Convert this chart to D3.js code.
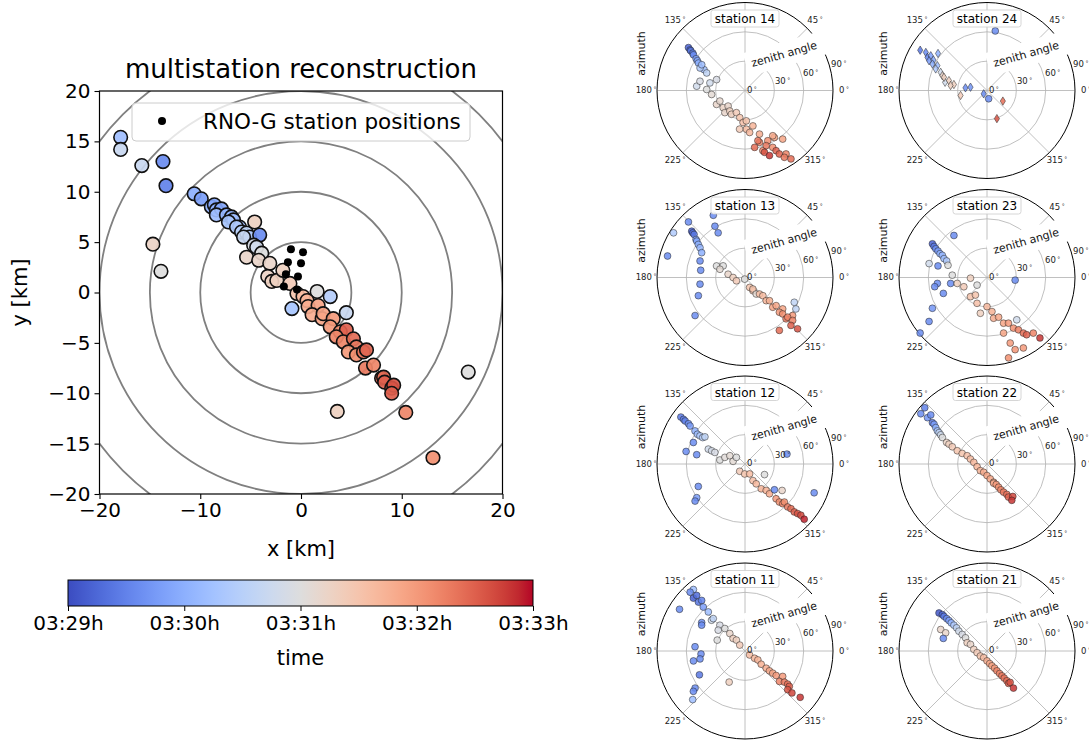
<!DOCTYPE html>
<html><head><meta charset="utf-8">
<script src="https://cdn.jsdelivr.net/npm/d3@7"></script>
<style>body{margin:0;background:#fff;} svg{font-family:"DejaVu Sans",sans-serif;}</style>
</head><body><svg id="c" width="1089" height="742"></svg>
<script>
// ---------- data ----------
const xTicks = [-20,-10,0,10,20];
const yTicks = [-20,-15,-10,-5,0,5,10,15,20];
const ringRadii = [5,10,15,20,25];
const timeTickValues = [0,1,2,3,4];
const timeTickLabels = ["03:29h","03:30h","03:31h","03:32h","03:33h"];
// main reconstruction: [x km, y km, minutes after 03:29]
const recoPoints = [
[-17.9,15.4,1.2],[-17.9,14.2,1.7],[-15.8,12.6,1.7],[-13.7,13.0,0.6],[-13.4,10.6,0.5],
[-14.7,4.8,2.25],[-13.9,2.1,2.0],[-10.6,9.8,1.0],[-9.9,9.3,0.8],[-8.9,8.5,1.0],[-8.6,8.7,0.9],
[-8.4,8.2,1.0],[-7.9,8.3,0.9],[-8.4,7.7,1.2],[-7.4,7.7,1.1],[-6.9,7.5,1.1],[-6.7,7.2,1.2],[-7.2,7.0,1.3],
[-6.1,6.5,1.2],[-6.4,6.5,1.4],[-5.9,6.0,1.5],[-5.4,5.9,1.6],[-5.1,5.5,1.4],[-4.6,7.0,2.3],[-4.1,5.7,0.6],
[-5.7,5.5,1.7],[-4.7,4.7,1.9],[-4.4,4.5,1.8],[-3.9,3.9,2.0],[-5.4,3.5,2.2],[-4.2,3.2,2.2],[-3.1,2.9,2.2],
[-3.3,1.6,2.25],[-2.9,1.1,2.3],[-2.4,1.2,2.3],[-1.8,2.2,2.3],[-1.1,0.9,2.4],[-0.4,-0.1,2.5],[0.2,-0.4,2.6],
[1.6,0.1,2.0],[2.9,-0.4,1.45],[-0.9,-1.6,1.3],[0.6,-0.8,2.7],[0.7,-1.4,2.8],[1.7,-1.3,2.9],[1.1,-2.2,2.8],
[2.1,-2.6,2.9],[2.2,-2.1,2.9],[3.2,-2.6,3.0],[4.5,-2.0,1.7],[2.9,-3.4,3.0],[3.9,-3.9,3.1],[4.5,-3.7,3.5],
[3.5,-4.4,3.2],[4.2,-4.9,3.2],[5.2,-4.6,3.4],[5.5,-5.4,3.3],[4.7,-5.9,3.0],[5.5,-6.2,3.1],[6.2,-5.9,3.35],
[6.5,-5.7,3.45],[6.4,-7.5,3.3],[7.2,-7.2,3.2],[8.0,-8.5,3.5],[8.2,-8.4,3.4],[8.3,-8.9,3.5],[9.0,-9.5,3.5],
[9.2,-9.2,3.6],[9.0,-10.0,3.5],[16.6,-7.9,2.0],[3.6,-11.8,2.3],[10.4,-11.9,3.2],[13.1,-16.4,3.1]
];
const stationPositions = [[-1.0,4.3],[0.2,4.0],[-1.3,3.0],[0.0,2.9],[-1.5,1.8],[-0.3,1.6],[-1.7,0.6],[-0.4,0.3]];

// polar panels: [azimuth deg, zenith deg, minutes after 03:29]
const station14 = [[142.8,72.6,0.2],[143.5,69.8,0.3],[143.8,68.7,0.4],[144.4,65.6,0.5],[145.3,64.1,0.6],[147,59.6,0.8],[148,57.4,0.9],[149.5,55.3,1.0],[153,47,1.2],[153.4,51.4,1.4],[155.4,43.1,1.6],[149.2,51.5,1.2],[174.9,49.6,1.8],[168.4,47,1.9],[167.8,36.7,1.8],[159,31.1,1.9],[178.5,39.2,2.0],[186.8,34.4,2.1],[206,32.4,2.2],[202.8,27.9,2.15],[218.2,28.4,2.25],[222.7,23.5,2.2],[227.7,30.6,2.2],[233.4,26.1,2.3],[240.3,28,2.3],[248.8,24.3,2.4],[259,28.2,2.5],[266.5,32.8,2.55],[272.5,31.1,2.5],[272,39.6,2.6],[262,39.9,2.4],[282.6,37.1,2.7],[276.3,43.2,2.65],[288.4,47,2.8],[302,56.7,2.9],[301.5,54.3,2.8],[307.8,62.9,2.9],[294.4,56.4,3.1],[296,64.7,3.1],[285.7,55.1,3.2],[284.4,53,3.3],[286.5,64.2,3.2],[279.6,59,3.4],[291,60.4,3.3],[297.3,69.3,3.5],[298.4,73.8,3.5],[287.5,66.3,3.6],[302.9,77.3,3.2],[300.5,79.3,3.3],[303.9,84.3,3.4],[290.6,71.1,3.8]];
const station24 = [[148.9,79.8,0.4],[148.1,73.7,0.6],[150.9,69.7,0.5],[148.3,67.6,0.8],[142.9,62.8,1.0],[152.8,66.6,0.8],[150.4,63,0.9],[154.1,62,1.0],[153.4,56.7,1.2],[157.2,56.9,1.4],[158.6,50.9,1.8],[168.9,43.7,1.8],[161.6,48.1,2.2],[162.9,46,2.3],[165.4,40.2,2.3],[169.8,34.4,2.3],[172.2,37.6,2.3],[190.6,27.5,2.4],[173,22.2,0.6],[168.7,17.2,0.7],[225,4.8,0.6],[326.3,19.5,3.4],[289.4,30.5,3.6]];
const station24Circles = [[82.1,61.5,0.6],[281.3,8.6,0.6]];
const station13 = [[148,86.2,1.4],[164.5,82.2,0.6],[135.5,81.1,0.6],[117,71.4,0.6],[120.4,60.8,0.6],[121,53.3,0.6],[139,72.2,0.2],[139.5,70.3,0.3],[139.8,68.2,0.4],[142.2,63.4,0.8],[143,61.8,0.9],[144.7,58.5,1.0],[146.5,55.2,1.1],[150.2,51.1,1.0],[159.8,49,0.6],[170.7,45.9,0.6],[188.4,46.5,0.6],[201.3,51.2,0.6],[217.3,64.2,0.6],[157.9,31.4,2.0],[152,25.3,2.0],[161.8,27,2.1],[169,17.6,2.2],[180,12.2,2.3],[201,9.4,2.4],[259,1.7,2.0],[295,11.2,2.5],[301,15.8,2.5],[304.4,14.3,2.5],[304.2,20.4,2.1],[311.3,22.5,2.6],[314.5,26.1,2.6],[312.4,32.1,2.7],[316.6,34.5,2.75],[313,41.6,2.9],[317.9,42.9,2.85],[320.2,50.2,2.9],[314.7,50,3.0],[316,53.6,3.1],[321.4,62.3,3.0],[314.8,59.6,3.3],[317.1,59.6,3.2],[318,65.6,3.2],[313.8,67.9,3.5],[328.3,61.2,1.6],[333.3,56.4,1.6],[303,64.5,3.4],[315.7,75.1,3.6]];
const station23 = [[128.2,54.7,0.6],[148.3,65.6,0.2],[149.6,62.8,0.4],[150.7,60.1,0.6],[151.6,56.9,0.8],[153.1,53.9,1.0],[153.6,51,1.1],[156.3,48,1.2],[157.7,44.6,1.4],[166.5,60.9,1.8],[166.7,51.5,0.6],[162.6,41.8,2.0],[176.2,35.6,2.0],[186.8,51.1,0.6],[200,47.5,0.6],[190,54.3,0.6],[189.3,37.7,0.6],[209.4,64.1,0.7],[217.2,74.4,0.6],[219.7,88.9,0.6],[191.3,31,2.3],[182.3,16.9,2.3],[201.8,25.5,2.4],[217.5,12.8,2.0],[229.2,25.9,2.5],[236.6,21.5,2.5],[248.9,28.3,2.55],[270,29.8,2.65],[259.5,37.2,2.3],[278.3,35.2,2.75],[279.2,42.2,2.8],[286.3,42.3,2.85],[289.9,49.7,2.9],[295.2,51.6,3.0],[286.6,59.3,2.9],[297.6,58.4,3.1],[301,62.4,3.25],[305.1,52.9,1.8],[303.2,67.9,3.4],[304.7,71.2,3.5],[309.8,74,3.2],[289.5,71.1,3.0],[291.3,79.2,3.05],[297.3,81.1,3.0],[285,85.1,3.1],[311.2,82.2,3.8],[354.6,28.9,0.6]];
const station12 = [[143.8,81.3,0.4],[144,77.7,0.45],[144.3,75.4,0.5],[144.5,71,0.6],[145.3,68.3,0.8],[146.5,61.3,1.0],[148,57.4,1.2],[148,54.3,1.4],[148,51,1.5],[145.9,49.5,1.6],[157.4,57.2,0.6],[168,61.6,0.6],[169.1,50.3,0.6],[157.9,40.5,1.8],[158.4,36.7,1.85],[159,33,1.9],[171,26,2.0],[161.8,21.7,2.05],[151.5,17.7,2.1],[167.5,12.5,2.1],[142.4,11.1,2.0],[234,9.2,2.4],[268,10.2,2.5],[295,11.2,2.6],[331.5,22.7,2.0],[295.6,18.8,2.55],[299.5,23.3,2.65],[303.2,30.3,2.7],[308.7,34.6,2.75],[309.4,39.4,2.8],[311.8,47.7,3.0],[312.1,52.4,3.1],[313.5,56,3.2],[316,56,3.1],[314.8,61.9,3.3],[315.8,65.6,3.4],[315.8,70.3,3.5],[316.7,73.9,3.6],[317.5,77.5,3.7],[317,82.8,3.9],[318.8,40,0.6],[324.5,46.6,2.2],[13.3,44.1,0.6],[337.4,76.6,0.6],[205.7,53,0.6],[214.9,60.2,0.8],[216.6,63.6,0.6]];
const station22 = [[142.8,85,0.6],[137.9,85.8,0.5],[142.1,77.1,0.7],[138.9,76.3,0.6],[142.9,70,0.4],[143.1,67.7,0.8],[144.6,64.3,1.0],[146.3,61,1.3],[146.8,58.6,1.6],[147.8,56,1.8],[149.3,53.1,2.0],[151.9,46.8,2.25],[152.4,43.9,2.3],[153.6,39.6,2.4],[156,33.3,2.5],[156.9,27.6,2.5],[157.4,22,2.55],[163.3,17.7,2.6],[172.9,13.6,2.65],[195,10.5,2.7],[225,9.6,2.7],[248.2,9.1,2.8],[270,11.8,2.9],[282.5,15.6,2.85],[290,19.8,2.9],[289,20.8,2.8],[294.3,23,3.0],[296.6,26.5,3.1],[298.3,30,3.2],[300.5,33.4,3.3],[303.1,37.1,3.4],[303,40.3,3.5],[308.5,42.4,3.7],[304.3,45,3.8]];
const station11 = [[130,82.1,1.2],[133,82.3,0.6],[147.5,79.4,0.6],[134.3,75.6,0.2],[131,75.3,0.3],[133.6,69.1,0.4],[130.6,68.1,0.5],[133.5,62,0.8],[133.2,54.8,1.2],[146.7,53,0.6],[149.2,51.6,0.6],[137.4,46.5,1.8],[134.4,46.4,1.6],[134.3,36.8,1.9],[142.1,34.7,1.9],[158.6,30.5,2.0],[131.9,30.9,2.0],[131,23.7,2.2],[133.5,17.7,2.3],[128.2,14.2,2.3],[131.6,8.1,2.4],[319.4,6.2,2.6],[322.8,12.3,2.65],[325.3,16,2.7],[320.8,21.4,2.75],[320.9,27.9,2.8],[320.9,32.2,2.85],[321.4,36.3,2.9],[321.8,40.5,3.0],[326,46.5,3.0],[318.5,47,3.2],[321.7,51.3,3.3],[322.2,55.2,3.4],[321.4,58,3.5],[317.8,58.9,3.6],[318.2,64.4,3.7],[320,73.7,3.8],[175.1,51.3,0.6],[183.9,45.1,0.6],[190,46.7,0.6],[190.9,53.7,0.6],[207.6,52.6,0.4],[216.6,63.6,0.6],[218,67,0.6],[222.9,73,1.2],[243,35.7,2.3]];
const station21 = [[141.6,62.6,0.1],[140.8,58.9,0.25],[141.1,56.5,0.4],[141.2,52.9,0.6],[141.3,49.8,0.8],[141.8,46.5,1.1],[142,42.9,1.4],[142.7,39.1,1.6],[144.8,35.2,1.8],[146.3,30.5,1.9],[155.1,52.2,2.2],[156.3,46.2,2.2],[163.9,46.5,0.6],[148.4,25.8,2.0],[157.4,22,2.3],[158.2,18.2,2.2],[172.9,13.6,2.3],[189.5,10.3,2.4],[216.9,8.5,2.5],[243.4,7.6,2.6],[270,10.1,2.8],[282,13.1,2.85],[288.4,16,2.9],[293.9,19.2,3.0],[296.6,22.7,3.2],[299.2,26.4,3.2],[301,29.6,3.3],[302.4,32.8,3.35],[303.7,36.6,3.4],[303.6,39.8,3.5],[306.4,39.9,3.6],[305.5,46.6,3.8]];
const zenithTicks = [0,30,60,90];
const azimuthLabels = [0,45,135,180,225,315];
const azimuthGrid = [0,45,90,135,180,225,270,315];

// coolwarm colormap stops
const coolwarm = ["#3b4cc0","#445acc","#4d68d7","#5775e1","#6282ea","#6c8ef1","#779af7","#82a5fb","#8db0fe","#98b9ff","#a3c2ff","#aec9fd","#b8d0f9","#c2d5f4","#ccd9ee","#d5dbe6","#dddddd","#e5d8d1","#ecd3c5","#f1ccb9","#f5c4ad","#f7bba0","#f7b194","#f7a687","#f49a7b","#f18d6f","#ec7f63","#e57058","#de604d","#d55042","#cb3e38","#c0282f","#b40426"];
const cmapI = d3.piecewise(d3.interpolateRgb, coolwarm);
const tScale = d3.scaleLinear().domain([0,4]).range([0,1]).clamp(true);
const color = t => cmapI(tScale(t));

const svg = d3.select("#c");
const minus = d => d < 0 ? "\u2212" + Math.abs(d) : String(d);

// ---------- main plot ----------
const X0=99.5, X1=502.5, Y0=91, Y1=494;
const xS = d3.scaleLinear().domain([-20,20]).range([X0,X1]);
const yS = d3.scaleLinear().domain([-20,20]).range([Y1,Y0]);
svg.append("clipPath").attr("id","clipMain").append("rect").attr("x",X0).attr("y",Y0).attr("width",X1-X0).attr("height",Y1-Y0);
const main = svg.append("g").attr("clip-path","url(#clipMain)");
main.selectAll("circle.ring").data(ringRadii).join("circle").attr("class","ring")
  .attr("cx",xS(0)).attr("cy",yS(0)).attr("r",d=>xS(d)-xS(0))
  .attr("fill","none").attr("stroke","#808080").attr("stroke-width",1.8);
main.selectAll("circle.reco").data(recoPoints).join("circle").attr("class","reco")
  .attr("cx",d=>xS(d[0])).attr("cy",d=>yS(d[1])).attr("r",6.8)
  .attr("fill",d=>color(d[2])).attr("fill-opacity",0.92)
  .attr("stroke","#111").attr("stroke-width",1.6);
main.selectAll("circle.st").data(stationPositions).join("circle").attr("class","st")
  .attr("cx",d=>xS(d[0])).attr("cy",d=>yS(d[1])).attr("r",4).attr("fill","#000");
svg.append("rect").attr("x",X0).attr("y",Y0).attr("width",X1-X0).attr("height",Y1-Y0)
  .attr("fill","none").attr("stroke","#000").attr("stroke-width",1.2);
const xAx = svg.append("g").attr("transform",`translate(0,${Y1})`)
  .call(d3.axisBottom(xS).tickValues(xTicks).tickSize(5).tickPadding(4).tickFormat(minus));
const yAx = svg.append("g").attr("transform",`translate(${X0},0)`)
  .call(d3.axisLeft(yS).tickValues(yTicks).tickSize(5).tickPadding(4).tickFormat(minus));
[xAx,yAx].forEach(a=>{a.select(".domain").remove();
  a.selectAll("text").attr("font-size",20).attr("fill","#000").attr("font-family","DejaVu Sans");
  a.selectAll("line").attr("stroke","#000").attr("stroke-width",1.1);});
svg.append("text").attr("x",(X0+X1)/2).attr("y",78).attr("text-anchor","middle").attr("font-size",26).text("multistation reconstruction");
svg.append("text").attr("x",(X0+X1)/2).attr("y",556).attr("text-anchor","middle").attr("font-size",21).text("x [km]");
svg.append("text").attr("transform",`translate(27,${(Y0+Y1)/2}) rotate(-90)`).attr("text-anchor","middle").attr("font-size",21).text("y [km]");
// legend
svg.append("rect").attr("x",132).attr("y",103).attr("width",338).attr("height",38).attr("rx",4)
  .attr("fill","#fff").attr("fill-opacity",0.8).attr("stroke","#cccccc").attr("stroke-width",1);
svg.append("circle").attr("cx",162).attr("cy",121).attr("r",4).attr("fill","#000");
svg.append("text").attr("x",203).attr("y",128.5).attr("font-size",21.5).text("RNO-G station positions");

// ---------- colorbar ----------
const CB0=68, CB1=533, CBy=580, CBh=26;
const grad = svg.append("defs").append("linearGradient").attr("id","cw");
coolwarm.forEach((c,i)=>grad.append("stop").attr("offset",(i/(coolwarm.length-1)*100)+"%").attr("stop-color",c));
svg.append("rect").attr("x",CB0).attr("y",CBy).attr("width",CB1-CB0).attr("height",CBh).attr("fill","url(#cw)").attr("stroke","#000").attr("stroke-width",1);
const cbS = d3.scaleLinear().domain([0,4]).range([CB0,CB1]);
const cbAx = svg.append("g").attr("transform",`translate(0,${CBy+CBh})`)
  .call(d3.axisBottom(cbS).tickValues(timeTickValues).tickSize(5).tickPadding(5).tickFormat((d,i)=>timeTickLabels[i]));
cbAx.select(".domain").remove();
cbAx.selectAll("text").attr("font-size",20).attr("fill","#000").attr("font-family","DejaVu Sans");
cbAx.selectAll("line").attr("stroke","#000");
svg.append("text").attr("x",(CB0+CB1)/2).attr("y",665).attr("text-anchor","middle").attr("font-size",21).text("time");

// ---------- polar panels ----------
const R = 88;
const rS = d3.scaleLinear().domain([0,90]).range([0,R]);
const rad = a => a*Math.PI/180;
const panels = [
 {name:"station 14",data:station14,cx:745,cy:90.5},
 {name:"station 24",data:station24,circ:station24Circles,diamond:true,cx:987,cy:90.5},
 {name:"station 13",data:station13,cx:745,cy:277.5},
 {name:"station 23",data:station23,cx:987,cy:277.5},
 {name:"station 12",data:station12,cx:745,cy:464},
 {name:"station 22",data:station22,cx:987,cy:464},
 {name:"station 11",data:station11,cx:745,cy:651},
 {name:"station 21",data:station21,cx:987,cy:651}
];
const px = (az,zen)=>rS(zen)*Math.cos(rad(az));
const py = (az,zen)=>-rS(zen)*Math.sin(rad(az));
const degLabel = (sel, fmt) => { sel.text(d=>fmt(d)); sel.append("tspan").attr("dx",1.5).attr("dy",-2).attr("font-size",6).text("°"); };
panels.forEach(p=>{
  const g = svg.append("g").attr("transform",`translate(${p.cx},${p.cy})`);
  g.append("circle").attr("r",R).attr("fill","#fff");
  g.selectAll("circle.zg").data(zenithTicks.slice(1,3)).join("circle").attr("class","zg")
    .attr("r",d=>rS(d)).attr("fill","none").attr("stroke","#b0b0b0").attr("stroke-width",0.8);
  g.selectAll("line.ag").data(azimuthGrid).join("line").attr("class","ag")
    .attr("x1",0).attr("y1",0).attr("x2",d=>px(d,90)).attr("y2",d=>py(d,90))
    .attr("stroke","#b0b0b0").attr("stroke-width",0.8);
  g.append("circle").attr("r",R).attr("fill","none").attr("stroke","#000").attr("stroke-width",1);
  if(p.diamond){
    g.selectAll("path.pt").data(p.data).join("path").attr("class","pt")
      .attr("transform",d=>`translate(${px(d[0],d[1])},${py(d[0],d[1])})`)
      .attr("d","M0,-4.2L2.6,0L0,4.2L-2.6,0Z")
      .attr("fill",d=>color(d[2])).attr("fill-opacity",0.85).attr("stroke","#222").attr("stroke-width",0.5);
    g.selectAll("circle.pc").data(p.circ).join("circle").attr("class","pc")
      .attr("cx",d=>px(d[0],d[1])).attr("cy",d=>py(d[0],d[1])).attr("r",3.4)
      .attr("fill",d=>color(d[2])).attr("fill-opacity",0.85).attr("stroke","#222").attr("stroke-width",0.5);
  } else {
    g.selectAll("circle.pt").data(p.data).join("circle").attr("class","pt")
      .attr("cx",d=>px(d[0],d[1])).attr("cy",d=>py(d[0],d[1])).attr("r",3.4)
      .attr("fill",d=>color(d[2])).attr("fill-opacity",0.85).attr("stroke","#222").attr("stroke-width",0.5);
  }
  // zenith angle label with white box
  const zl = g.append("g").attr("transform","translate(40.5,-37) rotate(-16)");
  zl.append("rect").attr("x",-41).attr("y",-12).attr("width",82).attr("height",24).attr("fill","#fff");
  zl.append("text").attr("x",-1.5).attr("y",4).attr("text-anchor","middle").attr("font-size",11).attr("fill","#111").text("zenith angle");
  // radial labels
  g.selectAll("text.rl").data(zenithTicks).join("text").attr("class","rl")
    .attr("x",d=>(rS(d)+2)*Math.cos(rad(17))).attr("y",d=>-(rS(d)+2)*Math.sin(rad(17)))
    .attr("dy","0.35em").attr("font-size",8.5).attr("fill","#222").call(degLabel, d=>String(d));
  // azimuth labels
  g.selectAll("text.al").data(azimuthLabels).join("text").attr("class","al")
    .attr("x",d=>99*Math.cos(rad(d))).attr("y",d=>-99*Math.sin(rad(d)))
    .attr("dy","0.35em").attr("text-anchor","middle").attr("font-size",8.5).attr("fill","#222").call(degLabel, d=>String(d));
  g.append("text").attr("transform","translate(-100,-37) rotate(-90)").attr("text-anchor","middle")
    .attr("font-size",11).attr("fill","#111").text("azimuth");
  // title box
  g.append("rect").attr("x",-34).attr("y",-80.5).attr("width",68).attr("height",17).attr("rx",2.5)
    .attr("fill","#fff").attr("fill-opacity",0.9).attr("stroke","#cccccc").attr("stroke-width",0.8);
  g.append("text").attr("x",0).attr("y",-67.5).attr("text-anchor","middle").attr("font-size",12).attr("fill","#000").text(p.name);
});
</script></body></html>
